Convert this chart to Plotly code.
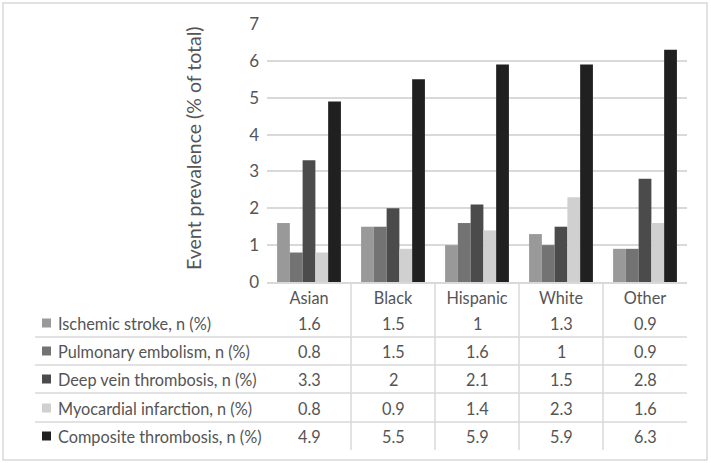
import plotly.graph_objects as go

categories = ["Asian", "Black", "Hispanic", "White", "Other"]
series_names = [
    "Ischemic stroke, n (%)",
    "Pulmonary embolism, n (%)",
    "Deep vein thrombosis, n (%)",
    "Myocardial infarction, n (%)",
    "Composite thrombosis, n (%)",
]
ischemic_stroke = [1.6, 1.5, 1, 1.3, 0.9]
pulmonary_embolism = [0.8, 1.5, 1.6, 1, 0.9]
deep_vein_thrombosis = [3.3, 2, 2.1, 1.5, 2.8]
myocardial_infarction = [0.8, 0.9, 1.4, 2.3, 1.6]
composite_thrombosis = [4.9, 5.5, 5.9, 5.9, 6.3]
series_values = [ischemic_stroke, pulmonary_embolism, deep_vein_thrombosis,
                 myocardial_infarction, composite_thrombosis]
colors = ["#999999", "#737373", "#4b4b4b", "#d0d0d0", "#202020"]
y_ticks = [0, 1, 2, 3, 4, 5, 6, 7]
y_title = "Event prevalence (% of total)"

W, H = 711, 463
L, R, T, B = 267, 24, 24, 181
PLOT_H = H - T - B
PLOT_W = W - L - R
TEXT = "#555555"
LINE = "#d9d9d9"
FONT = "Lato, Open Sans, sans-serif"


def px_x(px):
    return (px - L) / PLOT_W


def px_y(py):
    return (H - B - py) / PLOT_H


fig = go.Figure()
for name, vals, col in zip(series_names, series_values, colors):
    fig.add_trace(go.Bar(x=categories, y=vals, name=name, marker_color=col,
                         marker_line_width=0))

annotations = []
shapes = []

# y-axis title
annotations.append(dict(text=y_title, x=px_x(193), y=px_y(148), xref="paper", yref="paper",
                        xanchor="center", yanchor="middle",
                        textangle=-90, showarrow=False,
                        font=dict(size=19.5, color=TEXT, family=FONT)))

row_centers = [323, 351, 379, 408, 436]
for i, (name, vals, col) in enumerate(zip(series_names, series_values, colors)):
    yc = row_centers[i]
    annotations.append(dict(text=name, x=px_x(56), y=px_y(yc), xref="paper", yref="paper",
                            xanchor="left", yanchor="middle", showarrow=False,
                            font=dict(size=16.3, color=TEXT, family=FONT)))
    shapes.append(dict(type="rect", xref="paper", yref="paper",
                       x0=px_x(42), x1=px_x(51), y0=px_y(yc - 4.5), y1=px_y(yc + 4.5),
                       fillcolor=col, line=dict(width=0)))
    for c, v in zip(categories, vals):
        annotations.append(dict(text=f"{v:g}", x=c, y=px_y(yc), xref="x", yref="paper",
                                xanchor="center", yanchor="middle", showarrow=False,
                                font=dict(size=16.3, color=TEXT, family=FONT)))

# table horizontal lines
for py in [337, 365, 393, 422]:
    shapes.append(dict(type="line", xref="paper", yref="paper",
                       x0=px_x(35), x1=px_x(687), y0=px_y(py), y1=px_y(py),
                       line=dict(color=LINE, width=1.5)))
# table vertical lines between categories
for k in range(len(categories) - 1):
    shapes.append(dict(type="line", xref="x", yref="paper",
                       x0=k + 0.5, x1=k + 0.5, y0=0, y1=px_y(450),
                       line=dict(color=LINE, width=1.5)))
# outer border
shapes.append(dict(type="rect", xref="paper", yref="paper",
                   x0=px_x(3), x1=px_x(707), y0=px_y(460), y1=px_y(3),
                   line=dict(color=LINE, width=1.5), fillcolor="rgba(0,0,0,0)"))

fig.update_layout(
    width=W, height=H,
    margin=dict(l=L, r=R, t=T, b=B, pad=0),
    paper_bgcolor="white", plot_bgcolor="white",
    barmode="group", bargap=0.24, bargroupgap=0,
    showlegend=False,
    font=dict(family=FONT, color=TEXT, size=16),
    annotations=annotations, shapes=shapes,
    xaxis=dict(showgrid=False, showline=True, linecolor=LINE, linewidth=1.5,
               ticks="", tickfont=dict(size=16.3, color=TEXT, family=FONT),
               ticklabelstandoff=1, zeroline=False),
    yaxis=dict(range=[0, 7], tickvals=y_ticks, showgrid=True, gridcolor=LINE, gridwidth=1.5,
               showline=False, zeroline=False, ticks="",
               tickfont=dict(size=17, color=TEXT, family=FONT), ticklabelstandoff=7),
)

fig.write_html("out.html", config={"displayModeBar": False},
               post_script="document.body.style.margin='0';")
